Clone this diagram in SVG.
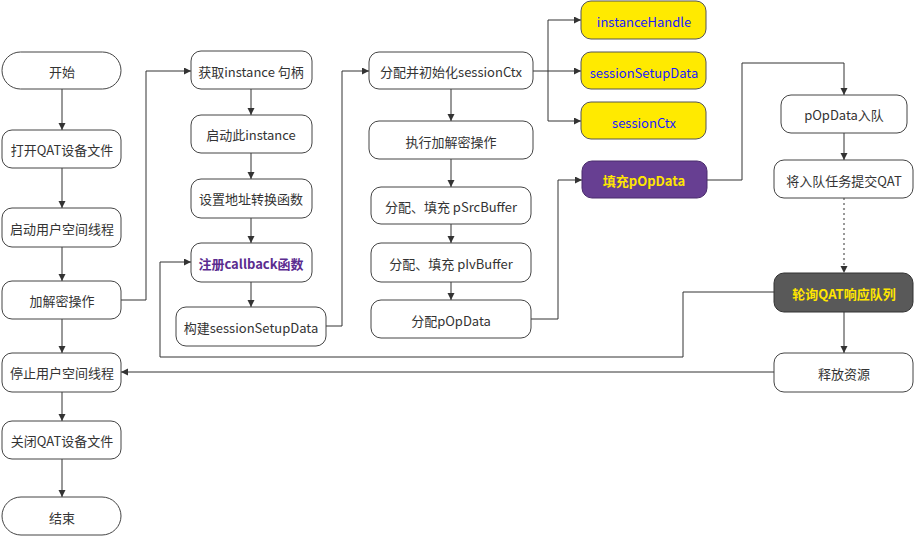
<svg xmlns="http://www.w3.org/2000/svg" width="914" height="536" viewBox="0 0 914 536">
<style>
.n{fill:#fff;stroke:#444;stroke-width:1}
.y{fill:#FFEA00;stroke:#555;stroke-width:1}
.p{fill:#673F92;stroke:#4a2c6c;stroke-width:1}
.g{fill:#595959;stroke:#333;stroke-width:1}
text{font-family:"Microsoft YaHei","Noto Sans CJK SC","Liberation Sans",sans-serif;font-size:13px;fill:#333;text-anchor:middle;dominant-baseline:central}
.tb{fill:#1a1aff}
.ty{fill:#FFE600;font-weight:bold}
.tp{fill:#5B2C8F;font-weight:bold}
.c{fill:none;stroke:#333;stroke-width:1}
.d{stroke-dasharray:2,3}
</style>
<defs>
<marker id="a" markerWidth="8" markerHeight="8" refX="7" refY="3.5" orient="auto" markerUnits="userSpaceOnUse">
<path d="M0,0 L7,3.5 L0,7 z" fill="#333"/>
</marker>
</defs>
<g id="connectors">
<path class="c" d="M62,89V130" marker-end="url(#a)"/>
<path class="c" d="M62,168V208" marker-end="url(#a)"/>
<path class="c" d="M62,247V281" marker-end="url(#a)"/>
<path class="c" d="M62,319V353" marker-end="url(#a)"/>
<path class="c" d="M62,392V421" marker-end="url(#a)"/>
<path class="c" d="M62,459V497" marker-end="url(#a)"/>
<path class="c" d="M121,300H146V71H191" marker-end="url(#a)"/>
<path class="c" d="M251,89V115" marker-end="url(#a)"/>
<path class="c" d="M251,153V179" marker-end="url(#a)"/>
<path class="c" d="M251,218V243" marker-end="url(#a)"/>
<path class="c" d="M251,282V307" marker-end="url(#a)"/>
<path class="c" d="M326,326H342V71H369" marker-end="url(#a)"/>
<path class="c" d="M533,71H581" marker-end="url(#a)"/>
<path class="c" d="M548,71V20H581" marker-end="url(#a)"/>
<path class="c" d="M548,71V121H581" marker-end="url(#a)"/>
<path class="c" d="M451,89V121" marker-end="url(#a)"/>
<path class="c" d="M451,159V187" marker-end="url(#a)"/>
<path class="c" d="M451,224V243" marker-end="url(#a)"/>
<path class="c" d="M451,282V300" marker-end="url(#a)"/>
<path class="c" d="M531,319H558V180H582" marker-end="url(#a)"/>
<path class="c" d="M707,180H742V63H844V95" marker-end="url(#a)"/>
<path class="c" d="M844,133V160" marker-end="url(#a)"/>
<path class="c d" d="M844,198V273" marker-end="url(#a)"/>
<path class="c" d="M844,312V353" marker-end="url(#a)"/>
<path class="c" d="M774,292H683V357H160V262H191" marker-end="url(#a)"/>
<path class="c" d="M774,372H121" marker-end="url(#a)"/>
</g>
<g id="start"><rect class="n" x="2" y="52" width="119" height="37" rx="18.5"/><text x="62" y="71">开始</text></g>
<g id="open"><rect class="n" x="2" y="130" width="119" height="38" rx="10"/><text x="62" y="149">打开QAT设备文件</text></g>
<g id="startThread"><rect class="n" x="2" y="208" width="119" height="39" rx="10"/><text x="62" y="228">启动用户空间线程</text></g>
<g id="crypto"><rect class="n" x="2" y="281" width="119" height="38" rx="10"/><text x="62" y="300">加解密操作</text></g>
<g id="stopThread"><rect class="n" x="2" y="353" width="119" height="39" rx="10"/><text x="62" y="372">停止用户空间线程</text></g>
<g id="close"><rect class="n" x="2" y="421" width="119" height="38" rx="10"/><text x="62" y="440">关闭QAT设备文件</text></g>
<g id="end"><rect class="n" x="2" y="497" width="119" height="38" rx="19"/><text x="62" y="517">结束</text></g>
<g id="getInstance"><rect class="n" x="191" y="51" width="121" height="38" rx="10"/><text x="251" y="71">获取instance 句柄</text></g>
<g id="startInstance"><rect class="n" x="191" y="115" width="121" height="38" rx="10"/><text x="251" y="134">启动此instance</text></g>
<g id="setAddr"><rect class="n" x="191" y="179" width="121" height="39" rx="10"/><text x="251" y="198">设置地址转换函数</text></g>
<g id="regCallback"><rect class="n" x="191" y="243" width="121" height="39" rx="10"/><text class="tp" x="251" y="263">注册callback函数</text></g>
<g id="buildSetup"><rect class="n" x="176" y="307" width="150" height="39" rx="10"/><text x="251" y="327">构建sessionSetupData</text></g>
<g id="allocCtx"><rect class="n" x="369" y="52" width="164" height="37" rx="10"/><text x="451" y="71">分配并初始化sessionCtx</text></g>
<g id="exec"><rect class="n" x="369" y="121" width="164" height="38" rx="10"/><text x="451" y="141">执行加解密操作</text></g>
<g id="srcBuf"><rect class="n" x="371" y="187" width="160" height="37" rx="10"/><text x="451" y="206">分配、填充 pSrcBuffer</text></g>
<g id="ivBuf"><rect class="n" x="371" y="243" width="160" height="39" rx="10"/><text x="451" y="263">分配、填充 pIvBuffer</text></g>
<g id="allocOp"><rect class="n" x="371" y="300" width="160" height="38" rx="10"/><text x="451" y="320">分配pOpData</text></g>
<g id="instanceHandle"><rect class="y" x="581" y="1" width="125" height="38" rx="10"/><text class="tb" x="644" y="21">instanceHandle</text></g>
<g id="sessionSetupData"><rect class="y" x="581" y="52" width="125" height="37" rx="10"/><text class="tb" x="644" y="72">sessionSetupData</text></g>
<g id="sessionCtx"><rect class="y" x="581" y="102" width="125" height="37" rx="10"/><text class="tb" x="644" y="122">sessionCtx</text></g>
<g id="fillOp"><rect class="p" x="582" y="161" width="125" height="37" rx="10"/><text class="ty" x="644" y="180">填充pOpData</text></g>
<g id="enqueue"><rect class="n" x="781" y="95" width="126" height="38" rx="10"/><text x="844" y="114">pOpData入队</text></g>
<g id="submit"><rect class="n" x="774" y="160" width="139" height="38" rx="10"/><text x="844" y="180">将入队任务提交QAT</text></g>
<g id="poll"><rect class="g" x="774" y="273" width="139" height="39" rx="10"/><text class="ty" x="844" y="293">轮询QAT响应队列</text></g>
<g id="release"><rect class="n" x="774" y="353" width="139" height="39" rx="10"/><text x="844" y="373">释放资源</text></g>
</svg>
